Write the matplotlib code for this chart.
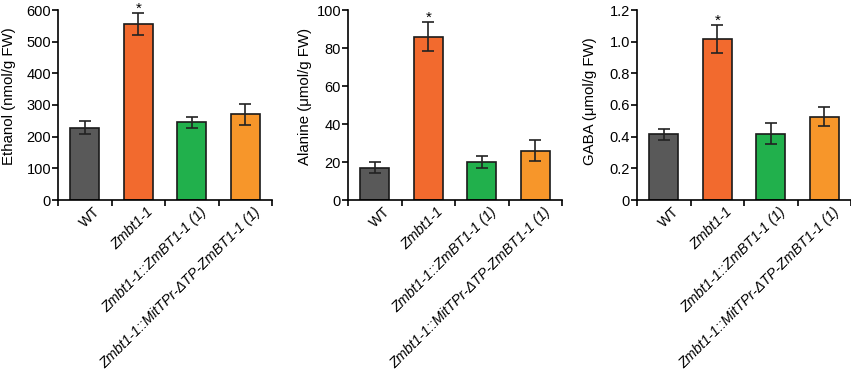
import matplotlib.pyplot as plt
import numpy as np

plt.rcParams['font.family'] = ['Liberation Sans', 'DejaVu Sans']

# data
groups = ['WT', 'Zmbt1-1', 'Zmbt1-1::ZmBT1-1 (1)',
          'Zmbt1-1::MitTPr-\u0394TP-ZmBT1-1 (1)']
colors = ['#595959', '#F26A2E', '#21B04C', '#F7962A']

ethanol = [228, 555, 245, 270]
ethanol_err = [20, 35, 18, 32]
alanine = [17, 86, 20, 26]
alanine_err = [3, 7.5, 3, 5.5]
gaba = [0.415, 1.015, 0.42, 0.527]
gaba_err = [0.035, 0.088, 0.065, 0.062]

ylabels = ['Ethanol (nmol/g FW)', 'Alanine (\u03bcmol/g FW)', 'GABA (\u03bcmol/g FW)']
ylims = [600, 100, 1.2]
ysteps = [100, 20, 0.2]
star_idx = 1

fig = plt.figure(figsize=(8.51, 3.8), dpi=100)
# axes positions in figure fractions
lefts = [58 / 851, 348 / 851, 637 / 851]
width = 214 / 851
bottom = 1 - 200 / 380
height = 190 / 380
label_x = [-0.195, -0.17, -0.187]

panels = [(ethanol, ethanol_err), (alanine, alanine_err), (gaba, gaba_err)]
x = np.arange(len(groups))

for i, (vals, errs) in enumerate(panels):
    ax = fig.add_axes([lefts[i], bottom, width, height])
    ax.bar(x, vals, width=0.54, color=colors, edgecolor='#1a1a1a', linewidth=1.2, zorder=2)
    ax.errorbar(x, vals, yerr=errs, fmt='none', ecolor='#222222', elinewidth=1.2,
                capsize=4, capthick=1.2, zorder=3)
    ax.annotate('*', xy=(x[star_idx], vals[star_idx] + errs[star_idx]),
                xytext=(0, -2), textcoords='offset points',
                ha='center', va='bottom', fontsize=11, annotation_clip=False)

    ax.set_xlim(-0.5, len(groups) - 0.5)
    ax.set_ylim(0, ylims[i])
    yt = np.arange(0, ylims[i] + ysteps[i] / 2, ysteps[i])
    ax.set_yticks(yt)
    if i == 2:
        ax.set_yticklabels(['0'] + ['%.1f' % v for v in yt[1:]])
    ax.set_ylabel(ylabels[i], fontsize=10.8, loc='bottom')
    ax.yaxis.set_label_coords(label_x[i], 0.185)

    # ticks at category boundaries, labels centred under bars
    ax.set_xticks(np.arange(-0.5, len(groups), 1.0))
    ax.set_xticklabels([])
    ax.tick_params(axis='x', length=4, width=1.2, direction='out')
    ax.tick_params(axis='y', length=4, width=1.2, direction='out', labelsize=10.5, pad=1)
    for j, g in enumerate(groups):
        ax.text(x[j] + 0.15, -ylims[i] * 0.025, g, rotation=45, ha='right', va='top',
                rotation_mode='anchor', fontsize=10.3,
                style='normal' if g == 'WT' else 'italic',
                transform=ax.transData, clip_on=False)

    for s in ['top', 'right']:
        ax.spines[s].set_visible(False)
    for s in ['left', 'bottom']:
        ax.spines[s].set_linewidth(1.2)

fig.savefig('out.png', dpi=100)
